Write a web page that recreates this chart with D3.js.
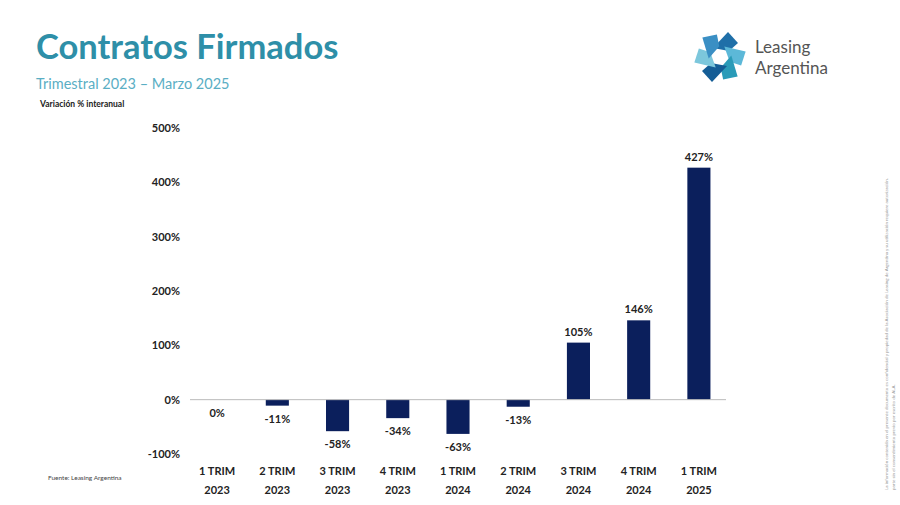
<!DOCTYPE html>
<html>
<head>
<meta charset="utf-8">
<script src="https://cdn.jsdelivr.net/npm/d3@7"></script>
<style>
body { margin: 0; background: #fff; }
svg { font-family: Lato, "Open Sans", sans-serif; }
</style>
</head>
<body>
<svg width="900" height="505"></svg>
<script>
const quarters = ["1 TRIM", "2 TRIM", "3 TRIM", "4 TRIM", "1 TRIM", "2 TRIM", "3 TRIM", "4 TRIM", "1 TRIM"];
const years = ["2023", "2023", "2023", "2023", "2024", "2024", "2024", "2024", "2025"];
const values = [0, -11, -58, -34, -63, -13, 105, 146, 427];
const yTicks = [-100, 0, 100, 200, 300, 400, 500];

const svg = d3.select("svg");

// titles
svg.append("text").attr("x", 36).attr("y", 59).attr("fill", "#2e8fa8")
  .attr("font-size", 34.5).attr("font-weight", 700).text("Contratos Firmados");
svg.append("text").attr("x", 36).attr("y", 89).attr("fill", "#5aaec4")
  .attr("font-size", 14.5).text("Trimestral 2023 – Marzo 2025");
svg.append("text").attr("x", 40).attr("y", 107).attr("fill", "#222")
  .attr("font-size", 8.5).attr("font-weight", 700).text("Variación % interanual");

const x = d3.scaleBand().domain(d3.range(values.length)).range([190, 726]).paddingInner(0.6).paddingOuter(0.25);
const y = d3.scaleLinear().domain([-100, 500]).range([454, 128]);

// y axis labels
svg.append("g").selectAll("text").data(yTicks).join("text")
  .attr("x", 180).attr("y", d => y(d) + 4).attr("text-anchor", "end")
  .attr("font-size", 11).attr("font-weight", 700).attr("fill", "#222")
  .text(d => d + "%");

// bars
svg.append("g").selectAll("rect").data(values).join("rect")
  .attr("x", (d, i) => x(i) + 0.5).attr("width", x.bandwidth() - 1)
  .attr("y", d => y(Math.max(0, d))).attr("height", d => Math.abs(y(d) - y(0)))
  .attr("fill", "#0b1f5c");

// zero line
svg.append("line").attr("x1", 190).attr("x2", 726).attr("y1", y(0)).attr("y2", y(0))
  .attr("stroke", "#bbb").attr("stroke-width", 1);

// value labels
svg.append("g").selectAll("text").data(values).join("text")
  .attr("x", (d, i) => x(i) + x.bandwidth() / 2)
  .attr("y", d => d > 0 ? y(d) - 7 : y(Math.min(d, 0)) + 17)
  .attr("text-anchor", "middle").attr("font-size", 11).attr("font-weight", 700).attr("fill", "#222")
  .text(d => d + "%");

// x labels
const xl = svg.append("g").selectAll("text").data(values).join("text")
  .attr("text-anchor", "middle").attr("font-size", 11).attr("font-weight", 700).attr("fill", "#222");
xl.append("tspan").attr("x", (d, i) => x(i) + x.bandwidth() / 2).attr("y", 475).text((d, i) => quarters[i]);
xl.append("tspan").attr("x", (d, i) => x(i) + x.bandwidth() / 2).attr("y", 494).text((d, i) => years[i]);

svg.append("text").attr("x", 48).attr("y", 480).attr("font-size", 6.5).attr("fill", "#444")
  .text("Fuente: Leasing Argentina");

// logo
const logo = svg.append("g").attr("transform", "translate(720,57)");
const cols = ["#1f6fa8", "#5cb8d8", "#2a9bb8", "#145d96", "#7cc7dc", "#3a8fc4"];
for (let k = 0; k < 6; k++) {
  logo.append("path").attr("transform", `rotate(${k * 60})`)
    .attr("d", "M-7,-9 L8,-25 L18,-14 L9,-6 Z").attr("fill", cols[k]);
}
logo.append("text").attr("x", 35).attr("y", -4).attr("font-size", 17).attr("fill", "#555").text("Leasing");
logo.append("text").attr("x", 35).attr("y", 17).attr("font-size", 17).attr("fill", "#555").text("Argentina");

// side disclaimer
svg.append("text").attr("transform", "translate(888,490) rotate(-90)")
  .attr("font-size", 4.5).attr("fill", "#999")
  .text("La información contenida en el presente documento es confidencial y propiedad de la Asociación de Leasing de Argentina y su utilización requiere autorización.");
svg.append("text").attr("transform", "translate(895,490) rotate(-90)")
  .attr("font-size", 4.5).attr("fill", "#999")
  .text("parte sin el consentimiento previo por escrito de ALA.");
</script>
</body>
</html>
